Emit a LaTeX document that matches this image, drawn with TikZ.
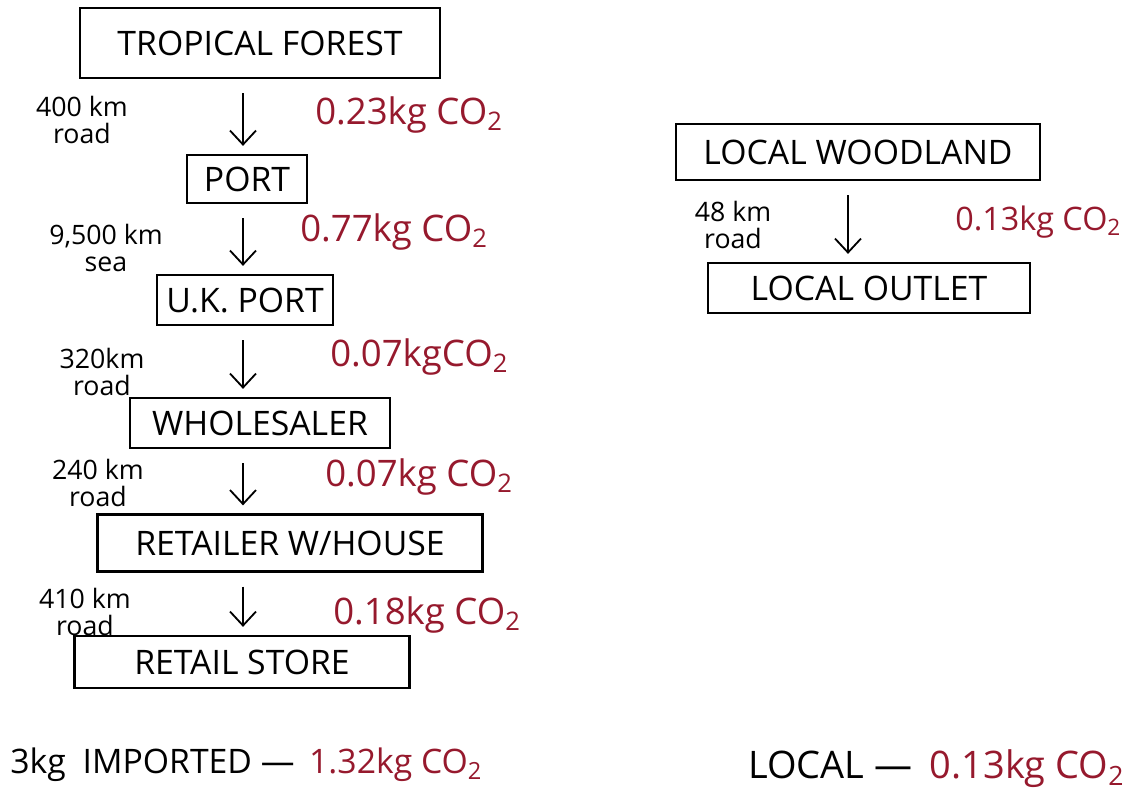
\documentclass[tikz,border=0pt]{standalone}
\usepackage{fontspec}
\setmainfont{Open Sans}
\usetikzlibrary{arrows.meta,positioning}

\definecolor{co2red}{RGB}{150,25,45}

\begin{document}
\begin{tikzpicture}[x=0.025cm,y=-0.025cm,
	>={Straight Barb[length=3.5mm,width=6.5mm]},
	stage/.style={draw,line width=1.6pt,inner sep=0pt,
		font=\fontsize{24}{24}\selectfont},
	dist/.style={align=center,inner sep=0pt,
		font=\fontsize{19}{19}\selectfont},
	emit/.style={anchor=west,inner sep=0pt,text=co2red,
		font=\fontsize{26}{26}\selectfont},
	total/.style={inner sep=0pt,font=\fontsize{24}{24}\selectfont},
	hop/.style={->,line width=1.3pt,shorten <=0.35cm,shorten >=0.2cm}]

\def\pix{0.025cm}
\def\spineL{243}
\def\spineR{848}

\useasboundingbox (0,0) rectangle (1134,797);

% imported chain
\node[stage,minimum width=360*\pix,minimum height=70*\pix] (forest) at (260,43) {TROPICAL FOREST};
\node[stage,minimum width=120*\pix,minimum height=48*\pix] (port) at (247,179) {PORT};
\node[stage,minimum width=176*\pix,minimum height=50*\pix] (ukport) at (245,300) {U.K. PORT};
\node[stage,minimum width=260*\pix,minimum height=50*\pix] (whole) at (260,423) {WHOLESALER};
\node[stage,minimum width=385*\pix,minimum height=57*\pix] (rwhouse) at (290,543) {RETAILER W/HOUSE};
\node[stage,minimum width=335*\pix,minimum height=52*\pix] (rstore) at (242,662) {RETAIL STORE};

\coordinate (colL) at (\spineL,0);
\draw[hop] (colL |- forest.south) -- (colL |- port.north);
\draw[hop] (colL |- port.south) -- (colL |- ukport.north);
\draw[hop] (colL |- ukport.south) -- (colL |- whole.north);
\draw[hop] (colL |- whole.south) -- (colL |- rwhouse.north);
\draw[hop] (colL |- rwhouse.south) -- (colL |- rstore.north);

% distances
\node[dist] (d1) at (82,120) {400 km\\road};
\node[dist] (d2) at (106,248) {9,500 km\\sea};
\node[dist] (d3) at (102,372) {320km\\road};
\node[dist] (d4) at (98,483) {240 km\\road};
\node[dist] (d5) at (85,612) {410 km\\road};

% emissions
\node[emit] (e1) at (315,115) {0.23kg CO\textsubscript{2}};
\node[emit] (e2) at (300,232) {0.77kg CO\textsubscript{2}};
\node[emit] (e3) at (330,357) {0.07kgCO\textsubscript{2}};
\node[emit] (e4) at (325,477) {0.07kg CO\textsubscript{2}};
\node[emit] (e5) at (333,615) {0.18kg CO\textsubscript{2}};

% local chain
\node[stage,minimum width=364*\pix,minimum height=56*\pix] (lwood) at (858,152) {LOCAL WOODLAND};
\node[stage,minimum width=322*\pix,minimum height=50*\pix] (lout) at (869,288) {LOCAL OUTLET};

\coordinate (colR) at (\spineR,0);
\draw[hop] (colR |- lwood.south) -- (colR |- lout.north);

\node[dist] (d6) at (733,225) {48 km\\road};
\node[emit,font=\fontsize{23}{23}\selectfont] (e6) at (955,222) {0.13kg CO\textsubscript{2}};

% totals
\node[total,anchor=west] (imp) at (10,765) {3kg\enspace IMPORTED —};
\node[total,text=co2red,base right=10pt of imp] (impco2) {1.32kg CO\textsubscript{2}};

\node[total,font=\fontsize{27}{27}\selectfont,anchor=west] (loc) at (748,765) {LOCAL —};
\node[total,font=\fontsize{27}{27}\selectfont,text=co2red,base right=12pt of loc] (locco2) {0.13kg CO\textsubscript{2}};

\end{tikzpicture}
\end{document}
